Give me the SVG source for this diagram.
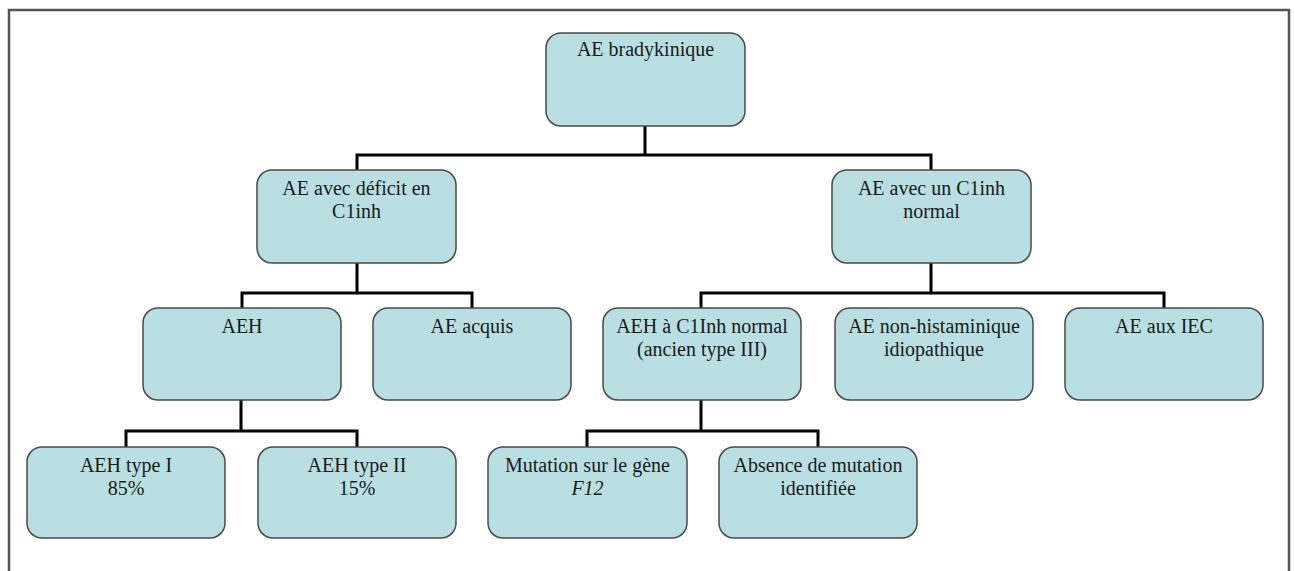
<svg xmlns="http://www.w3.org/2000/svg" width="1295" height="571" viewBox="0 0 1295 571">
<style>
.box{fill:#b9dfe2;stroke:#4a4a4a;stroke-width:1.5}
.t{font-family:"Liberation Serif","Times New Roman",serif;font-size:20px;fill:#1a1a1a;text-anchor:middle}
.c{fill:none;stroke:#000;stroke-width:3}
</style>
<rect x="0" y="0" width="1295" height="571" fill="#fff"/>
<path d="M9 575 V10 H1289 V575" fill="none" stroke="#555" stroke-width="2.5"/>
<g id="connectors">
<path class="c" d="M645 126 V155 M357 170 V155 H931 V170"/>
<path class="c" d="M357 263 V293 M242 308 V293 H472 V308"/>
<path class="c" d="M931 263 V293 M701 308 V293 H1164 V308"/>
<path class="c" d="M241 400 V431 M126 447 V431 H357 V447"/>
<path class="c" d="M701 400 V431 M587 447 V431 H818 V447"/>
</g>
<g id="n-root"><rect class="box" x="546" y="33" width="199" height="93" rx="15"/><text class="t" x="645.5" y="56">AE bradykinique</text></g>
<g id="n-deficit"><rect class="box" x="257" y="170" width="199" height="93" rx="15"/><text class="t" x="356.5" y="195">AE avec déficit en</text><text class="t" x="356.5" y="218">C1inh</text></g>
<g id="n-normal"><rect class="box" x="832" y="170" width="199" height="93" rx="15"/><text class="t" x="931.5" y="195">AE avec un C1inh</text><text class="t" x="931.5" y="218">normal</text></g>
<g id="n-aeh"><rect class="box" x="143" y="308" width="198" height="92" rx="15"/><text class="t" x="242" y="333">AEH</text></g>
<g id="n-acquis"><rect class="box" x="373" y="308" width="198" height="92" rx="15"/><text class="t" x="472" y="333">AE acquis</text></g>
<g id="n-aeh3"><rect class="box" x="603" y="308" width="198" height="92" rx="15"/><text class="t" x="702" y="333">AEH à C1Inh normal</text><text class="t" x="702" y="356">(ancien type III)</text></g>
<g id="n-idio"><rect class="box" x="835" y="308" width="198" height="92" rx="15"/><text class="t" x="934" y="333">AE non-histaminique</text><text class="t" x="934" y="356">idiopathique</text></g>
<g id="n-iec"><rect class="box" x="1065" y="308" width="198" height="92" rx="15"/><text class="t" x="1164" y="333">AE aux IEC</text></g>
<g id="n-type1"><rect class="box" x="27" y="447" width="198" height="91" rx="15"/><text class="t" x="126" y="472">AEH type I</text><text class="t" x="126" y="495">85%</text></g>
<g id="n-type2"><rect class="box" x="258" y="447" width="198" height="91" rx="15"/><text class="t" x="357" y="472">AEH type II</text><text class="t" x="357" y="495">15%</text></g>
<g id="n-f12"><rect class="box" x="488" y="447" width="199" height="91" rx="15"/><text class="t" x="587.5" y="472">Mutation sur le gène</text><text class="t" x="587.5" y="495" font-style="italic">F12</text></g>
<g id="n-absence"><rect class="box" x="719" y="447" width="198" height="91" rx="15"/><text class="t" x="818" y="472">Absence de mutation</text><text class="t" x="818" y="495">identifiée</text></g>
</svg>
